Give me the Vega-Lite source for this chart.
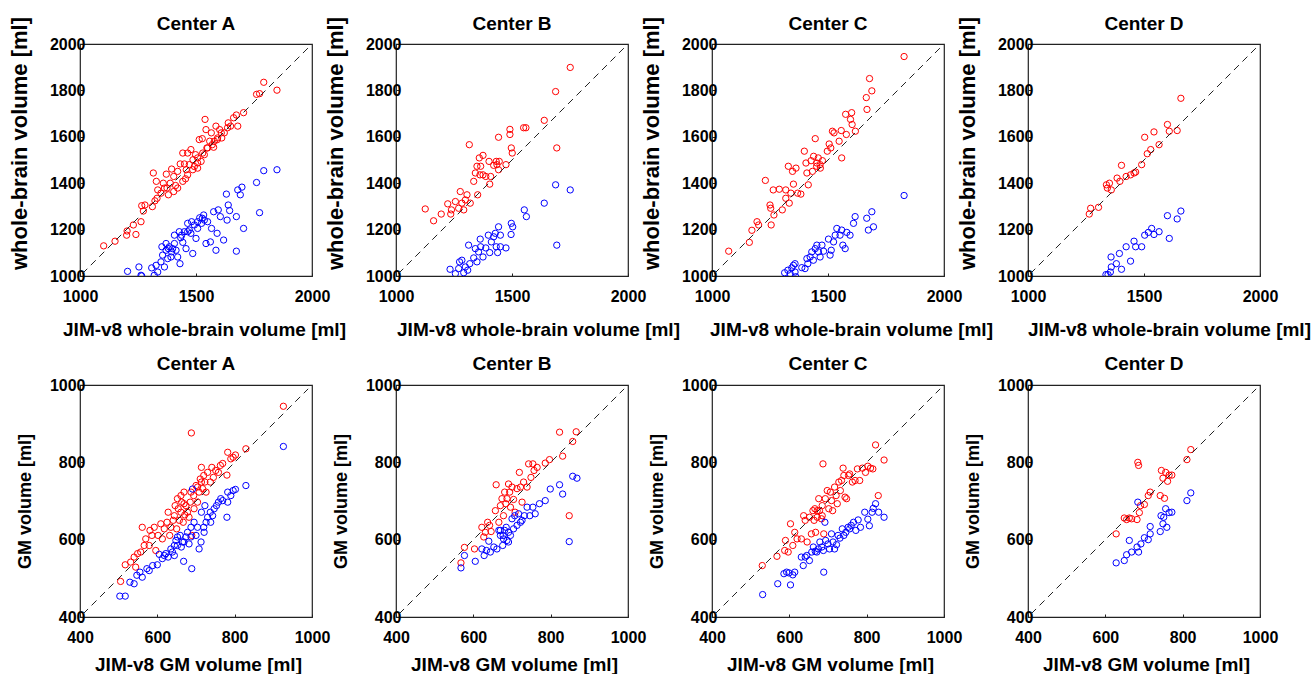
{
"$schema":"https://vega.github.io/schema/vega-lite/v6.json",
"padding":{"left":7,"top":14,"right":2,"bottom":0},
"background":"white",
"bounds":"flush",
"columns":4,
"spacing":{"row":109,"column":84},
"datasets":{
"diag":[{"r":"W","x":1010,"y":1010},{"r":"W","x":1985,"y":1985},{"r":"G","x":408,"y":408},{"r":"G","x":990,"y":990}],
"pts":[
{"p":"WA","c":"r","x":1102,"y":1130},{"p":"WA","c":"r","x":1151,"y":1150},{"p":"WA","c":"r","x":1203,"y":1194},{"p":"WA","c":"r","x":1201,"y":1176},{"p":"WA","c":"r","x":1230,"y":1220},{"p":"WA","c":"r","x":1241,"y":1179},{"p":"WA","c":"r","x":1263,"y":1234},{"p":"WA","c":"r","x":1273,"y":1280},{"p":"WA","c":"r","x":1266,"y":1303},{"p":"WA","c":"r","x":1280,"y":1306},{"p":"WA","c":"r","x":1312,"y":1299},{"p":"WA","c":"r","x":1316,"y":1444},{"p":"WA","c":"r","x":1323,"y":1324},{"p":"WA","c":"r","x":1329,"y":1408},{"p":"WA","c":"r","x":1332,"y":1335},{"p":"WA","c":"r","x":1349,"y":1357},{"p":"WA","c":"r","x":1359,"y":1400},{"p":"WA","c":"r","x":1372,"y":1439},{"p":"WA","c":"r","x":1375,"y":1379},{"p":"WA","c":"r","x":1381,"y":1350},{"p":"WA","c":"r","x":1389,"y":1400},{"p":"WA","c":"r","x":1395,"y":1461},{"p":"WA","c":"r","x":1404,"y":1364},{"p":"WA","c":"r","x":1404,"y":1429},{"p":"WA","c":"r","x":1412,"y":1390},{"p":"WA","c":"r","x":1421,"y":1451},{"p":"WA","c":"r","x":1432,"y":1483},{"p":"WA","c":"r","x":1443,"y":1530},{"p":"WA","c":"r","x":1450,"y":1483},{"p":"WA","c":"r","x":1455,"y":1419},{"p":"WA","c":"r","x":1458,"y":1458},{"p":"WA","c":"r","x":1464,"y":1530},{"p":"WA","c":"r","x":1471,"y":1480},{"p":"WA","c":"r","x":1478,"y":1545},{"p":"WA","c":"r","x":1487,"y":1501},{"p":"WA","c":"r","x":1498,"y":1523},{"p":"WA","c":"r","x":1507,"y":1487},{"p":"WA","c":"r","x":1514,"y":1588},{"p":"WA","c":"r","x":1527,"y":1592},{"p":"WA","c":"r","x":1536,"y":1523},{"p":"WA","c":"r","x":1539,"y":1675},{"p":"WA","c":"r","x":1543,"y":1631},{"p":"WA","c":"r","x":1547,"y":1552},{"p":"WA","c":"r","x":1559,"y":1581},{"p":"WA","c":"r","x":1566,"y":1617},{"p":"WA","c":"r","x":1576,"y":1555},{"p":"WA","c":"r","x":1586,"y":1646},{"p":"WA","c":"r","x":1592,"y":1588},{"p":"WA","c":"r","x":1602,"y":1631},{"p":"WA","c":"r","x":1611,"y":1595},{"p":"WA","c":"r","x":1622,"y":1617},{"p":"WA","c":"r","x":1639,"y":1660},{"p":"WA","c":"r","x":1649,"y":1646},{"p":"WA","c":"r","x":1674,"y":1694},{"p":"WA","c":"r","x":1680,"y":1646},{"p":"WA","c":"r","x":1705,"y":1704},{"p":"WA","c":"r","x":1761,"y":1783},{"p":"WA","c":"r","x":1774,"y":1786},{"p":"WA","c":"r","x":1792,"y":1835},{"p":"WA","c":"r","x":1849,"y":1801},{"p":"WA","c":"r","x":1421,"y":1379},{"p":"WA","c":"r","x":1443,"y":1408},{"p":"WA","c":"r","x":1464,"y":1436},{"p":"WA","c":"r","x":1493,"y":1472},{"p":"WA","c":"r","x":1507,"y":1509},{"p":"WA","c":"r","x":1529,"y":1530},{"p":"WA","c":"r","x":1550,"y":1552},{"p":"WA","c":"r","x":1579,"y":1581},{"p":"WA","c":"r","x":1609,"y":1617},{"p":"WA","c":"r","x":1636,"y":1639},{"p":"WA","c":"r","x":1662,"y":1682},{"p":"WA","c":"r","x":1507,"y":1465},{"p":"WA","c":"r","x":1486,"y":1458},{"p":"WA","c":"r","x":1522,"y":1494},{"p":"WA","c":"r","x":1570,"y":1566},{"p":"WA","c":"r","x":1593,"y":1595},{"p":"WA","c":"r","x":1335,"y":1371},{"p":"WA","c":"r","x":1364,"y":1379},
{"p":"WA","c":"b","x":1205,"y":1020},{"p":"WA","c":"b","x":1254,"y":1039},{"p":"WA","c":"b","x":1263,"y":1003},{"p":"WA","c":"b","x":1266,"y":1000},{"p":"WA","c":"b","x":1309,"y":1035},{"p":"WA","c":"b","x":1320,"y":1003},{"p":"WA","c":"b","x":1328,"y":1046},{"p":"WA","c":"b","x":1335,"y":1017},{"p":"WA","c":"b","x":1349,"y":1061},{"p":"WA","c":"b","x":1356,"y":1090},{"p":"WA","c":"b","x":1353,"y":1126},{"p":"WA","c":"b","x":1364,"y":1039},{"p":"WA","c":"b","x":1378,"y":1075},{"p":"WA","c":"b","x":1381,"y":1118},{"p":"WA","c":"b","x":1392,"y":1082},{"p":"WA","c":"b","x":1399,"y":1118},{"p":"WA","c":"b","x":1407,"y":1176},{"p":"WA","c":"b","x":1414,"y":1111},{"p":"WA","c":"b","x":1421,"y":1082},{"p":"WA","c":"b","x":1431,"y":1053},{"p":"WA","c":"b","x":1434,"y":1165},{"p":"WA","c":"b","x":1443,"y":1145},{"p":"WA","c":"b","x":1450,"y":1191},{"p":"WA","c":"b","x":1457,"y":1118},{"p":"WA","c":"b","x":1464,"y":1227},{"p":"WA","c":"b","x":1471,"y":1198},{"p":"WA","c":"b","x":1478,"y":1184},{"p":"WA","c":"b","x":1486,"y":1097},{"p":"WA","c":"b","x":1493,"y":1220},{"p":"WA","c":"b","x":1500,"y":1162},{"p":"WA","c":"b","x":1507,"y":1205},{"p":"WA","c":"b","x":1516,"y":1251},{"p":"WA","c":"b","x":1524,"y":1227},{"p":"WA","c":"b","x":1533,"y":1263},{"p":"WA","c":"b","x":1543,"y":1140},{"p":"WA","c":"b","x":1550,"y":1234},{"p":"WA","c":"b","x":1562,"y":1147},{"p":"WA","c":"b","x":1567,"y":1205},{"p":"WA","c":"b","x":1576,"y":1277},{"p":"WA","c":"b","x":1586,"y":1111},{"p":"WA","c":"b","x":1591,"y":1184},{"p":"WA","c":"b","x":1596,"y":1285},{"p":"WA","c":"b","x":1605,"y":1256},{"p":"WA","c":"b","x":1619,"y":1155},{"p":"WA","c":"b","x":1631,"y":1353},{"p":"WA","c":"b","x":1634,"y":1241},{"p":"WA","c":"b","x":1639,"y":1306},{"p":"WA","c":"b","x":1645,"y":1282},{"p":"WA","c":"b","x":1674,"y":1256},{"p":"WA","c":"b","x":1674,"y":1107},{"p":"WA","c":"b","x":1680,"y":1371},{"p":"WA","c":"b","x":1691,"y":1350},{"p":"WA","c":"b","x":1698,"y":1383},{"p":"WA","c":"b","x":1705,"y":1205},{"p":"WA","c":"b","x":1761,"y":1403},{"p":"WA","c":"b","x":1774,"y":1273},{"p":"WA","c":"b","x":1792,"y":1454},{"p":"WA","c":"b","x":1849,"y":1458},{"p":"WA","c":"b","x":1371,"y":1111},{"p":"WA","c":"b","x":1385,"y":1126},{"p":"WA","c":"b","x":1395,"y":1104},{"p":"WA","c":"b","x":1371,"y":1140},{"p":"WA","c":"b","x":1407,"y":1140},{"p":"WA","c":"b","x":1428,"y":1191},{"p":"WA","c":"b","x":1438,"y":1176},{"p":"WA","c":"b","x":1464,"y":1191},{"p":"WA","c":"b","x":1481,"y":1234},{"p":"WA","c":"b","x":1507,"y":1234},{"p":"WA","c":"b","x":1527,"y":1249},{"p":"WA","c":"b","x":1536,"y":1241},
{"p":"WB","c":"r","x":1126,"y":1289},{"p":"WB","c":"r","x":1162,"y":1238},{"p":"WB","c":"r","x":1195,"y":1267},{"p":"WB","c":"r","x":1223,"y":1311},{"p":"WB","c":"r","x":1236,"y":1267},{"p":"WB","c":"r","x":1239,"y":1285},{"p":"WB","c":"r","x":1256,"y":1321},{"p":"WB","c":"r","x":1270,"y":1292},{"p":"WB","c":"r","x":1277,"y":1364},{"p":"WB","c":"r","x":1284,"y":1314},{"p":"WB","c":"r","x":1292,"y":1285},{"p":"WB","c":"r","x":1299,"y":1328},{"p":"WB","c":"r","x":1306,"y":1350},{"p":"WB","c":"r","x":1316,"y":1566},{"p":"WB","c":"r","x":1320,"y":1314},{"p":"WB","c":"r","x":1335,"y":1408},{"p":"WB","c":"r","x":1342,"y":1444},{"p":"WB","c":"r","x":1349,"y":1473},{"p":"WB","c":"r","x":1352,"y":1350},{"p":"WB","c":"r","x":1359,"y":1509},{"p":"WB","c":"r","x":1362,"y":1436},{"p":"WB","c":"r","x":1365,"y":1473},{"p":"WB","c":"r","x":1375,"y":1520},{"p":"WB","c":"r","x":1375,"y":1436},{"p":"WB","c":"r","x":1387,"y":1429},{"p":"WB","c":"r","x":1401,"y":1494},{"p":"WB","c":"r","x":1404,"y":1396},{"p":"WB","c":"r","x":1408,"y":1429},{"p":"WB","c":"r","x":1421,"y":1477},{"p":"WB","c":"r","x":1432,"y":1494},{"p":"WB","c":"r","x":1442,"y":1458},{"p":"WB","c":"r","x":1445,"y":1494},{"p":"WB","c":"r","x":1442,"y":1598},{"p":"WB","c":"r","x":1435,"y":1480},{"p":"WB","c":"r","x":1474,"y":1480},{"p":"WB","c":"r","x":1491,"y":1632},{"p":"WB","c":"r","x":1491,"y":1610},{"p":"WB","c":"r","x":1497,"y":1552},{"p":"WB","c":"r","x":1501,"y":1530},{"p":"WB","c":"r","x":1550,"y":1639},{"p":"WB","c":"r","x":1560,"y":1639},{"p":"WB","c":"r","x":1639,"y":1671},{"p":"WB","c":"r","x":1688,"y":1795},{"p":"WB","c":"r","x":1693,"y":1552},{"p":"WB","c":"r","x":1751,"y":1899},
{"p":"WB","c":"b","x":1233,"y":1029},{"p":"WB","c":"b","x":1256,"y":1010},{"p":"WB","c":"b","x":1270,"y":1032},{"p":"WB","c":"b","x":1274,"y":1061},{"p":"WB","c":"b","x":1284,"y":1068},{"p":"WB","c":"b","x":1292,"y":1014},{"p":"WB","c":"b","x":1299,"y":1039},{"p":"WB","c":"b","x":1309,"y":1025},{"p":"WB","c":"b","x":1313,"y":1133},{"p":"WB","c":"b","x":1318,"y":1053},{"p":"WB","c":"b","x":1335,"y":1078},{"p":"WB","c":"b","x":1342,"y":1118},{"p":"WB","c":"b","x":1349,"y":1061},{"p":"WB","c":"b","x":1356,"y":1104},{"p":"WB","c":"b","x":1363,"y":1159},{"p":"WB","c":"b","x":1365,"y":1126},{"p":"WB","c":"b","x":1375,"y":1082},{"p":"WB","c":"b","x":1387,"y":1121},{"p":"WB","c":"b","x":1398,"y":1176},{"p":"WB","c":"b","x":1404,"y":1101},{"p":"WB","c":"b","x":1411,"y":1147},{"p":"WB","c":"b","x":1421,"y":1169},{"p":"WB","c":"b","x":1428,"y":1184},{"p":"WB","c":"b","x":1432,"y":1126},{"p":"WB","c":"b","x":1438,"y":1101},{"p":"WB","c":"b","x":1442,"y":1212},{"p":"WB","c":"b","x":1450,"y":1176},{"p":"WB","c":"b","x":1450,"y":1126},{"p":"WB","c":"b","x":1474,"y":1121},{"p":"WB","c":"b","x":1496,"y":1179},{"p":"WB","c":"b","x":1497,"y":1227},{"p":"WB","c":"b","x":1503,"y":1212},{"p":"WB","c":"b","x":1553,"y":1285},{"p":"WB","c":"b","x":1562,"y":1256},{"p":"WB","c":"b","x":1639,"y":1314},{"p":"WB","c":"b","x":1688,"y":1393},{"p":"WB","c":"b","x":1693,"y":1133},{"p":"WB","c":"b","x":1751,"y":1371},
{"p":"WC","c":"r","x":1072,"y":1107},{"p":"WC","c":"r","x":1161,"y":1145},{"p":"WC","c":"r","x":1172,"y":1197},{"p":"WC","c":"r","x":1194,"y":1234},{"p":"WC","c":"r","x":1201,"y":1220},{"p":"WC","c":"r","x":1230,"y":1412},{"p":"WC","c":"r","x":1255,"y":1220},{"p":"WC","c":"r","x":1250,"y":1306},{"p":"WC","c":"r","x":1253,"y":1292},{"p":"WC","c":"r","x":1264,"y":1371},{"p":"WC","c":"r","x":1267,"y":1263},{"p":"WC","c":"r","x":1290,"y":1374},{"p":"WC","c":"r","x":1303,"y":1285},{"p":"WC","c":"r","x":1318,"y":1371},{"p":"WC","c":"r","x":1318,"y":1335},{"p":"WC","c":"r","x":1329,"y":1473},{"p":"WC","c":"r","x":1333,"y":1314},{"p":"WC","c":"r","x":1340,"y":1357},{"p":"WC","c":"r","x":1347,"y":1451},{"p":"WC","c":"r","x":1351,"y":1396},{"p":"WC","c":"r","x":1362,"y":1465},{"p":"WC","c":"r","x":1369,"y":1357},{"p":"WC","c":"r","x":1383,"y":1353},{"p":"WC","c":"r","x":1398,"y":1538},{"p":"WC","c":"r","x":1405,"y":1487},{"p":"WC","c":"r","x":1409,"y":1444},{"p":"WC","c":"r","x":1415,"y":1393},{"p":"WC","c":"r","x":1427,"y":1497},{"p":"WC","c":"r","x":1433,"y":1451},{"p":"WC","c":"r","x":1438,"y":1516},{"p":"WC","c":"r","x":1445,"y":1592},{"p":"WC","c":"r","x":1451,"y":1473},{"p":"WC","c":"r","x":1458,"y":1509},{"p":"WC","c":"r","x":1467,"y":1465},{"p":"WC","c":"r","x":1476,"y":1497},{"p":"WC","c":"r","x":1497,"y":1538},{"p":"WC","c":"r","x":1505,"y":1569},{"p":"WC","c":"r","x":1512,"y":1552},{"p":"WC","c":"r","x":1519,"y":1624},{"p":"WC","c":"r","x":1526,"y":1617},{"p":"WC","c":"r","x":1548,"y":1581},{"p":"WC","c":"r","x":1559,"y":1509},{"p":"WC","c":"r","x":1557,"y":1627},{"p":"WC","c":"r","x":1576,"y":1697},{"p":"WC","c":"r","x":1579,"y":1610},{"p":"WC","c":"r","x":1597,"y":1675},{"p":"WC","c":"r","x":1602,"y":1704},{"p":"WC","c":"r","x":1604,"y":1653},{"p":"WC","c":"r","x":1618,"y":1624},{"p":"WC","c":"r","x":1665,"y":1769},{"p":"WC","c":"r","x":1668,"y":1718},{"p":"WC","c":"r","x":1679,"y":1851},{"p":"WC","c":"r","x":1689,"y":1798},{"p":"WC","c":"r","x":1828,"y":1946},{"p":"WC","c":"r","x":1452,"y":1487},{"p":"WC","c":"r","x":1466,"y":1480},
{"p":"WC","c":"b","x":1313,"y":1014},{"p":"WC","c":"b","x":1327,"y":1025},{"p":"WC","c":"b","x":1337,"y":1010},{"p":"WC","c":"b","x":1344,"y":1035},{"p":"WC","c":"b","x":1351,"y":1046},{"p":"WC","c":"b","x":1358,"y":1053},{"p":"WC","c":"b","x":1361,"y":997},{"p":"WC","c":"b","x":1358,"y":1017},{"p":"WC","c":"b","x":1387,"y":1036},{"p":"WC","c":"b","x":1401,"y":1032},{"p":"WC","c":"b","x":1409,"y":1075},{"p":"WC","c":"b","x":1413,"y":1053},{"p":"WC","c":"b","x":1423,"y":1082},{"p":"WC","c":"b","x":1430,"y":1104},{"p":"WC","c":"b","x":1437,"y":1068},{"p":"WC","c":"b","x":1445,"y":1118},{"p":"WC","c":"b","x":1452,"y":1133},{"p":"WC","c":"b","x":1459,"y":1104},{"p":"WC","c":"b","x":1466,"y":1082},{"p":"WC","c":"b","x":1474,"y":1133},{"p":"WC","c":"b","x":1481,"y":1107},{"p":"WC","c":"b","x":1502,"y":1159},{"p":"WC","c":"b","x":1509,"y":1090},{"p":"WC","c":"b","x":1514,"y":1111},{"p":"WC","c":"b","x":1524,"y":1147},{"p":"WC","c":"b","x":1531,"y":1176},{"p":"WC","c":"b","x":1538,"y":1205},{"p":"WC","c":"b","x":1552,"y":1176},{"p":"WC","c":"b","x":1559,"y":1198},{"p":"WC","c":"b","x":1564,"y":1133},{"p":"WC","c":"b","x":1574,"y":1118},{"p":"WC","c":"b","x":1581,"y":1188},{"p":"WC","c":"b","x":1595,"y":1176},{"p":"WC","c":"b","x":1610,"y":1227},{"p":"WC","c":"b","x":1617,"y":1256},{"p":"WC","c":"b","x":1667,"y":1249},{"p":"WC","c":"b","x":1674,"y":1198},{"p":"WC","c":"b","x":1689,"y":1277},{"p":"WC","c":"b","x":1696,"y":1212},{"p":"WC","c":"b","x":1828,"y":1347},
{"p":"WD","c":"r","x":1264,"y":1267},{"p":"WD","c":"r","x":1270,"y":1292},{"p":"WD","c":"r","x":1304,"y":1296},{"p":"WD","c":"r","x":1338,"y":1393},{"p":"WD","c":"r","x":1342,"y":1379},{"p":"WD","c":"r","x":1351,"y":1400},{"p":"WD","c":"r","x":1359,"y":1371},{"p":"WD","c":"r","x":1384,"y":1422},{"p":"WD","c":"r","x":1396,"y":1408},{"p":"WD","c":"r","x":1403,"y":1477},{"p":"WD","c":"r","x":1423,"y":1429},{"p":"WD","c":"r","x":1442,"y":1436},{"p":"WD","c":"r","x":1457,"y":1444},{"p":"WD","c":"r","x":1464,"y":1448},{"p":"WD","c":"r","x":1490,"y":1480},{"p":"WD","c":"r","x":1503,"y":1598},{"p":"WD","c":"r","x":1514,"y":1527},{"p":"WD","c":"r","x":1529,"y":1545},{"p":"WD","c":"r","x":1543,"y":1621},{"p":"WD","c":"r","x":1565,"y":1566},{"p":"WD","c":"r","x":1601,"y":1653},{"p":"WD","c":"r","x":1609,"y":1624},{"p":"WD","c":"r","x":1643,"y":1627},{"p":"WD","c":"r","x":1659,"y":1766},
{"p":"WD","c":"b","x":1336,"y":1006},{"p":"WD","c":"b","x":1345,"y":1006},{"p":"WD","c":"b","x":1355,"y":1017},{"p":"WD","c":"b","x":1359,"y":1039},{"p":"WD","c":"b","x":1358,"y":1082},{"p":"WD","c":"b","x":1381,"y":1053},{"p":"WD","c":"b","x":1394,"y":1097},{"p":"WD","c":"b","x":1403,"y":1029},{"p":"WD","c":"b","x":1423,"y":1126},{"p":"WD","c":"b","x":1442,"y":1064},{"p":"WD","c":"b","x":1457,"y":1150},{"p":"WD","c":"b","x":1464,"y":1126},{"p":"WD","c":"b","x":1490,"y":1126},{"p":"WD","c":"b","x":1503,"y":1176},{"p":"WD","c":"b","x":1519,"y":1188},{"p":"WD","c":"b","x":1533,"y":1205},{"p":"WD","c":"b","x":1543,"y":1179},{"p":"WD","c":"b","x":1565,"y":1191},{"p":"WD","c":"b","x":1601,"y":1260},{"p":"WD","c":"b","x":1609,"y":1162},{"p":"WD","c":"b","x":1643,"y":1246},{"p":"WD","c":"b","x":1659,"y":1280},
{"p":"GA","c":"r","x":505,"y":492},{"p":"GA","c":"r","x":517,"y":535},{"p":"GA","c":"r","x":531,"y":542},{"p":"GA","c":"r","x":540,"y":555},{"p":"GA","c":"r","x":544,"y":529},{"p":"GA","c":"r","x":549,"y":564},{"p":"GA","c":"r","x":557,"y":568},{"p":"GA","c":"r","x":561,"y":632},{"p":"GA","c":"r","x":566,"y":585},{"p":"GA","c":"r","x":570,"y":602},{"p":"GA","c":"r","x":579,"y":585},{"p":"GA","c":"r","x":581,"y":624},{"p":"GA","c":"r","x":586,"y":611},{"p":"GA","c":"r","x":592,"y":632},{"p":"GA","c":"r","x":596,"y":572},{"p":"GA","c":"r","x":602,"y":611},{"p":"GA","c":"r","x":609,"y":641},{"p":"GA","c":"r","x":613,"y":602},{"p":"GA","c":"r","x":618,"y":628},{"p":"GA","c":"r","x":625,"y":645},{"p":"GA","c":"r","x":628,"y":671},{"p":"GA","c":"r","x":632,"y":611},{"p":"GA","c":"r","x":635,"y":632},{"p":"GA","c":"r","x":641,"y":650},{"p":"GA","c":"r","x":644,"y":662},{"p":"GA","c":"r","x":646,"y":688},{"p":"GA","c":"r","x":650,"y":628},{"p":"GA","c":"r","x":652,"y":706},{"p":"GA","c":"r","x":654,"y":680},{"p":"GA","c":"r","x":657,"y":650},{"p":"GA","c":"r","x":661,"y":714},{"p":"GA","c":"r","x":661,"y":671},{"p":"GA","c":"r","x":663,"y":697},{"p":"GA","c":"r","x":667,"y":645},{"p":"GA","c":"r","x":669,"y":693},{"p":"GA","c":"r","x":671,"y":664},{"p":"GA","c":"r","x":674,"y":688},{"p":"GA","c":"r","x":678,"y":671},{"p":"GA","c":"r","x":682,"y":658},{"p":"GA","c":"r","x":685,"y":697},{"p":"GA","c":"r","x":688,"y":876},{"p":"GA","c":"r","x":689,"y":611},{"p":"GA","c":"r","x":694,"y":714},{"p":"GA","c":"r","x":695,"y":680},{"p":"GA","c":"r","x":700,"y":740},{"p":"GA","c":"r","x":704,"y":697},{"p":"GA","c":"r","x":708,"y":723},{"p":"GA","c":"r","x":711,"y":757},{"p":"GA","c":"r","x":714,"y":787},{"p":"GA","c":"r","x":717,"y":732},{"p":"GA","c":"r","x":720,"y":766},{"p":"GA","c":"r","x":723,"y":749},{"p":"GA","c":"r","x":726,"y":723},{"p":"GA","c":"r","x":730,"y":774},{"p":"GA","c":"r","x":737,"y":749},{"p":"GA","c":"r","x":741,"y":787},{"p":"GA","c":"r","x":745,"y":761},{"p":"GA","c":"r","x":751,"y":779},{"p":"GA","c":"r","x":758,"y":774},{"p":"GA","c":"r","x":763,"y":792},{"p":"GA","c":"r","x":769,"y":797},{"p":"GA","c":"r","x":780,"y":767},{"p":"GA","c":"r","x":782,"y":826},{"p":"GA","c":"r","x":790,"y":809},{"p":"GA","c":"r","x":796,"y":813},{"p":"GA","c":"r","x":802,"y":819},{"p":"GA","c":"r","x":829,"y":835},{"p":"GA","c":"r","x":926,"y":945},{"p":"GA","c":"r","x":704,"y":736},{"p":"GA","c":"r","x":714,"y":749},{"p":"GA","c":"r","x":687,"y":723},{"p":"GA","c":"r","x":669,"y":723},
{"p":"GA","c":"b","x":503,"y":454},{"p":"GA","c":"b","x":517,"y":454},{"p":"GA","c":"b","x":529,"y":490},{"p":"GA","c":"b","x":540,"y":486},{"p":"GA","c":"b","x":547,"y":508},{"p":"GA","c":"b","x":555,"y":516},{"p":"GA","c":"b","x":561,"y":503},{"p":"GA","c":"b","x":573,"y":525},{"p":"GA","c":"b","x":579,"y":520},{"p":"GA","c":"b","x":588,"y":533},{"p":"GA","c":"b","x":600,"y":535},{"p":"GA","c":"b","x":605,"y":562},{"p":"GA","c":"b","x":613,"y":551},{"p":"GA","c":"b","x":618,"y":559},{"p":"GA","c":"b","x":622,"y":564},{"p":"GA","c":"b","x":628,"y":555},{"p":"GA","c":"b","x":635,"y":576},{"p":"GA","c":"b","x":639,"y":568},{"p":"GA","c":"b","x":644,"y":585},{"p":"GA","c":"b","x":648,"y":598},{"p":"GA","c":"b","x":652,"y":585},{"p":"GA","c":"b","x":659,"y":611},{"p":"GA","c":"b","x":662,"y":581},{"p":"GA","c":"b","x":665,"y":594},{"p":"GA","c":"b","x":668,"y":544},{"p":"GA","c":"b","x":674,"y":607},{"p":"GA","c":"b","x":678,"y":619},{"p":"GA","c":"b","x":682,"y":589},{"p":"GA","c":"b","x":687,"y":632},{"p":"GA","c":"b","x":689,"y":525},{"p":"GA","c":"b","x":691,"y":731},{"p":"GA","c":"b","x":695,"y":645},{"p":"GA","c":"b","x":700,"y":611},{"p":"GA","c":"b","x":704,"y":632},{"p":"GA","c":"b","x":708,"y":576},{"p":"GA","c":"b","x":713,"y":594},{"p":"GA","c":"b","x":714,"y":671},{"p":"GA","c":"b","x":720,"y":632},{"p":"GA","c":"b","x":723,"y":688},{"p":"GA","c":"b","x":726,"y":645},{"p":"GA","c":"b","x":730,"y":658},{"p":"GA","c":"b","x":737,"y":671},{"p":"GA","c":"b","x":743,"y":662},{"p":"GA","c":"b","x":747,"y":680},{"p":"GA","c":"b","x":753,"y":688},{"p":"GA","c":"b","x":758,"y":697},{"p":"GA","c":"b","x":764,"y":706},{"p":"GA","c":"b","x":769,"y":701},{"p":"GA","c":"b","x":780,"y":658},{"p":"GA","c":"b","x":782,"y":723},{"p":"GA","c":"b","x":782,"y":697},{"p":"GA","c":"b","x":790,"y":714},{"p":"GA","c":"b","x":796,"y":727},{"p":"GA","c":"b","x":802,"y":730},{"p":"GA","c":"b","x":829,"y":740},{"p":"GA","c":"b","x":926,"y":841},{"p":"GA","c":"b","x":644,"y":559},{"p":"GA","c":"b","x":652,"y":607},{"p":"GA","c":"b","x":669,"y":594},{"p":"GA","c":"b","x":687,"y":607},{"p":"GA","c":"b","x":721,"y":619},{"p":"GA","c":"b","x":738,"y":645},
{"p":"GB","c":"r","x":568,"y":540},{"p":"GB","c":"r","x":577,"y":580},{"p":"GB","c":"r","x":603,"y":576},{"p":"GB","c":"r","x":622,"y":632},{"p":"GB","c":"r","x":627,"y":607},{"p":"GB","c":"r","x":631,"y":619},{"p":"GB","c":"r","x":637,"y":645},{"p":"GB","c":"r","x":642,"y":637},{"p":"GB","c":"r","x":646,"y":621},{"p":"GB","c":"r","x":657,"y":675},{"p":"GB","c":"r","x":659,"y":742},{"p":"GB","c":"r","x":666,"y":645},{"p":"GB","c":"r","x":670,"y":688},{"p":"GB","c":"r","x":674,"y":706},{"p":"GB","c":"r","x":678,"y":662},{"p":"GB","c":"r","x":681,"y":723},{"p":"GB","c":"r","x":684,"y":693},{"p":"GB","c":"r","x":687,"y":706},{"p":"GB","c":"r","x":691,"y":744},{"p":"GB","c":"r","x":694,"y":723},{"p":"GB","c":"r","x":696,"y":684},{"p":"GB","c":"r","x":700,"y":736},{"p":"GB","c":"r","x":704,"y":704},{"p":"GB","c":"r","x":708,"y":671},{"p":"GB","c":"r","x":713,"y":732},{"p":"GB","c":"r","x":719,"y":774},{"p":"GB","c":"r","x":722,"y":736},{"p":"GB","c":"r","x":726,"y":697},{"p":"GB","c":"r","x":730,"y":749},{"p":"GB","c":"r","x":739,"y":736},{"p":"GB","c":"r","x":743,"y":796},{"p":"GB","c":"r","x":749,"y":761},{"p":"GB","c":"r","x":754,"y":796},{"p":"GB","c":"r","x":757,"y":779},{"p":"GB","c":"r","x":765,"y":787},{"p":"GB","c":"r","x":786,"y":798},{"p":"GB","c":"r","x":797,"y":807},{"p":"GB","c":"r","x":823,"y":878},{"p":"GB","c":"r","x":831,"y":816},{"p":"GB","c":"r","x":848,"y":662},{"p":"GB","c":"r","x":857,"y":854},{"p":"GB","c":"r","x":866,"y":879},
{"p":"GB","c":"b","x":568,"y":527},{"p":"GB","c":"b","x":577,"y":559},{"p":"GB","c":"b","x":605,"y":544},{"p":"GB","c":"b","x":622,"y":576},{"p":"GB","c":"b","x":628,"y":559},{"p":"GB","c":"b","x":634,"y":572},{"p":"GB","c":"b","x":640,"y":596},{"p":"GB","c":"b","x":644,"y":568},{"p":"GB","c":"b","x":653,"y":581},{"p":"GB","c":"b","x":661,"y":576},{"p":"GB","c":"b","x":666,"y":624},{"p":"GB","c":"b","x":670,"y":611},{"p":"GB","c":"b","x":676,"y":585},{"p":"GB","c":"b","x":678,"y":602},{"p":"GB","c":"b","x":681,"y":624},{"p":"GB","c":"b","x":685,"y":632},{"p":"GB","c":"b","x":687,"y":598},{"p":"GB","c":"b","x":691,"y":619},{"p":"GB","c":"b","x":696,"y":611},{"p":"GB","c":"b","x":700,"y":654},{"p":"GB","c":"b","x":704,"y":628},{"p":"GB","c":"b","x":707,"y":662},{"p":"GB","c":"b","x":713,"y":637},{"p":"GB","c":"b","x":717,"y":667},{"p":"GB","c":"b","x":722,"y":645},{"p":"GB","c":"b","x":726,"y":650},{"p":"GB","c":"b","x":732,"y":662},{"p":"GB","c":"b","x":739,"y":684},{"p":"GB","c":"b","x":746,"y":662},{"p":"GB","c":"b","x":754,"y":684},{"p":"GB","c":"b","x":760,"y":667},{"p":"GB","c":"b","x":771,"y":693},{"p":"GB","c":"b","x":786,"y":701},{"p":"GB","c":"b","x":799,"y":731},{"p":"GB","c":"b","x":823,"y":742},{"p":"GB","c":"b","x":831,"y":718},{"p":"GB","c":"b","x":848,"y":595},{"p":"GB","c":"b","x":857,"y":764},{"p":"GB","c":"b","x":868,"y":759},{"p":"GB","c":"b","x":670,"y":624},{"p":"GB","c":"b","x":691,"y":594},{"p":"GB","c":"b","x":677,"y":611},
{"p":"GC","c":"r","x":530,"y":533},{"p":"GC","c":"r","x":568,"y":557},{"p":"GC","c":"r","x":588,"y":572},{"p":"GC","c":"r","x":590,"y":598},{"p":"GC","c":"r","x":597,"y":568},{"p":"GC","c":"r","x":603,"y":641},{"p":"GC","c":"r","x":609,"y":585},{"p":"GC","c":"r","x":614,"y":619},{"p":"GC","c":"r","x":620,"y":602},{"p":"GC","c":"r","x":631,"y":602},{"p":"GC","c":"r","x":637,"y":662},{"p":"GC","c":"r","x":641,"y":650},{"p":"GC","c":"r","x":646,"y":594},{"p":"GC","c":"r","x":652,"y":658},{"p":"GC","c":"r","x":657,"y":615},{"p":"GC","c":"r","x":661,"y":675},{"p":"GC","c":"r","x":664,"y":650},{"p":"GC","c":"r","x":666,"y":680},{"p":"GC","c":"r","x":668,"y":619},{"p":"GC","c":"r","x":672,"y":658},{"p":"GC","c":"r","x":676,"y":706},{"p":"GC","c":"r","x":678,"y":675},{"p":"GC","c":"r","x":683,"y":654},{"p":"GC","c":"r","x":685,"y":688},{"p":"GC","c":"r","x":687,"y":796},{"p":"GC","c":"r","x":689,"y":615},{"p":"GC","c":"r","x":693,"y":706},{"p":"GC","c":"r","x":698,"y":727},{"p":"GC","c":"r","x":702,"y":680},{"p":"GC","c":"r","x":706,"y":723},{"p":"GC","c":"r","x":709,"y":701},{"p":"GC","c":"r","x":712,"y":675},{"p":"GC","c":"r","x":717,"y":736},{"p":"GC","c":"r","x":721,"y":714},{"p":"GC","c":"r","x":724,"y":693},{"p":"GC","c":"r","x":728,"y":749},{"p":"GC","c":"r","x":732,"y":727},{"p":"GC","c":"r","x":735,"y":753},{"p":"GC","c":"r","x":739,"y":785},{"p":"GC","c":"r","x":744,"y":710},{"p":"GC","c":"r","x":748,"y":706},{"p":"GC","c":"r","x":753,"y":766},{"p":"GC","c":"r","x":756,"y":770},{"p":"GC","c":"r","x":763,"y":749},{"p":"GC","c":"r","x":770,"y":753},{"p":"GC","c":"r","x":776,"y":783},{"p":"GC","c":"r","x":782,"y":753},{"p":"GC","c":"r","x":789,"y":785},{"p":"GC","c":"r","x":797,"y":774},{"p":"GC","c":"r","x":803,"y":790},{"p":"GC","c":"r","x":810,"y":785},{"p":"GC","c":"r","x":816,"y":783},{"p":"GC","c":"r","x":823,"y":845},{"p":"GC","c":"r","x":830,"y":714},{"p":"GC","c":"r","x":845,"y":806},{"p":"GC","c":"r","x":672,"y":675},{"p":"GC","c":"r","x":685,"y":662},{"p":"GC","c":"r","x":741,"y":766},
{"p":"GC","c":"b","x":531,"y":458},{"p":"GC","c":"b","x":570,"y":486},{"p":"GC","c":"b","x":586,"y":512},{"p":"GC","c":"b","x":593,"y":516},{"p":"GC","c":"b","x":599,"y":514},{"p":"GC","c":"b","x":603,"y":483},{"p":"GC","c":"b","x":609,"y":509},{"p":"GC","c":"b","x":614,"y":516},{"p":"GC","c":"b","x":631,"y":555},{"p":"GC","c":"b","x":636,"y":533},{"p":"GC","c":"b","x":641,"y":555},{"p":"GC","c":"b","x":645,"y":559},{"p":"GC","c":"b","x":652,"y":546},{"p":"GC","c":"b","x":658,"y":568},{"p":"GC","c":"b","x":662,"y":581},{"p":"GC","c":"b","x":667,"y":570},{"p":"GC","c":"b","x":671,"y":568},{"p":"GC","c":"b","x":675,"y":576},{"p":"GC","c":"b","x":679,"y":594},{"p":"GC","c":"b","x":684,"y":581},{"p":"GC","c":"b","x":688,"y":572},{"p":"GC","c":"b","x":689,"y":516},{"p":"GC","c":"b","x":692,"y":645},{"p":"GC","c":"b","x":694,"y":598},{"p":"GC","c":"b","x":700,"y":589},{"p":"GC","c":"b","x":704,"y":576},{"p":"GC","c":"b","x":709,"y":615},{"p":"GC","c":"b","x":713,"y":594},{"p":"GC","c":"b","x":717,"y":576},{"p":"GC","c":"b","x":722,"y":587},{"p":"GC","c":"b","x":726,"y":611},{"p":"GC","c":"b","x":731,"y":604},{"p":"GC","c":"b","x":737,"y":628},{"p":"GC","c":"b","x":741,"y":611},{"p":"GC","c":"b","x":746,"y":619},{"p":"GC","c":"b","x":752,"y":632},{"p":"GC","c":"b","x":756,"y":628},{"p":"GC","c":"b","x":760,"y":637},{"p":"GC","c":"b","x":766,"y":645},{"p":"GC","c":"b","x":772,"y":624},{"p":"GC","c":"b","x":778,"y":651},{"p":"GC","c":"b","x":784,"y":632},{"p":"GC","c":"b","x":795,"y":671},{"p":"GC","c":"b","x":803,"y":653},{"p":"GC","c":"b","x":807,"y":636},{"p":"GC","c":"b","x":814,"y":671},{"p":"GC","c":"b","x":817,"y":681},{"p":"GC","c":"b","x":823,"y":693},{"p":"GC","c":"b","x":831,"y":671},{"p":"GC","c":"b","x":845,"y":658},
{"p":"GD","c":"r","x":628,"y":615},{"p":"GD","c":"r","x":649,"y":656},{"p":"GD","c":"r","x":655,"y":652},{"p":"GD","c":"r","x":662,"y":656},{"p":"GD","c":"r","x":668,"y":654},{"p":"GD","c":"r","x":682,"y":652},{"p":"GD","c":"r","x":684,"y":800},{"p":"GD","c":"r","x":686,"y":792},{"p":"GD","c":"r","x":688,"y":670},{"p":"GD","c":"r","x":691,"y":688},{"p":"GD","c":"r","x":701,"y":691},{"p":"GD","c":"r","x":711,"y":714},{"p":"GD","c":"r","x":716,"y":723},{"p":"GD","c":"r","x":742,"y":714},{"p":"GD","c":"r","x":745,"y":779},{"p":"GD","c":"r","x":749,"y":759},{"p":"GD","c":"r","x":753,"y":707},{"p":"GD","c":"r","x":756,"y":774},{"p":"GD","c":"r","x":761,"y":751},{"p":"GD","c":"r","x":765,"y":767},{"p":"GD","c":"r","x":772,"y":767},{"p":"GD","c":"r","x":811,"y":807},{"p":"GD","c":"r","x":821,"y":833},
{"p":"GD","c":"b","x":628,"y":540},{"p":"GD","c":"b","x":649,"y":546},{"p":"GD","c":"b","x":655,"y":561},{"p":"GD","c":"b","x":662,"y":598},{"p":"GD","c":"b","x":668,"y":568},{"p":"GD","c":"b","x":682,"y":581},{"p":"GD","c":"b","x":684,"y":697},{"p":"GD","c":"b","x":686,"y":568},{"p":"GD","c":"b","x":692,"y":589},{"p":"GD","c":"b","x":701,"y":605},{"p":"GD","c":"b","x":711,"y":600},{"p":"GD","c":"b","x":716,"y":634},{"p":"GD","c":"b","x":716,"y":615},{"p":"GD","c":"b","x":742,"y":621},{"p":"GD","c":"b","x":744,"y":662},{"p":"GD","c":"b","x":749,"y":641},{"p":"GD","c":"b","x":751,"y":658},{"p":"GD","c":"b","x":756,"y":680},{"p":"GD","c":"b","x":759,"y":632},{"p":"GD","c":"b","x":765,"y":670},{"p":"GD","c":"b","x":772,"y":671},{"p":"GD","c":"b","x":811,"y":701},{"p":"GD","c":"b","x":821,"y":721}
]},
"concat":[
{"width":232,"height":232,"title":{"text":"Center A","offset":-18},"layer":[
 {"data":{"name":"pts"},"transform":[{"filter":"datum.p==='WA'"}],"mark":{"type":"point","filled":false,"size":40,"strokeWidth":1,"clip":true,"opacity":1},
  "encoding":{"x":{"field":"x","type":"quantitative","scale":{"domain":[1000,2000],"nice":false,"zero":false},"axis":{"title":"JIM-v8 whole-brain volume [ml]","values":[1000,1500,2000],"format":"d","titleX":124,"titleY":44}},
   "y":{"field":"y","type":"quantitative","scale":{"domain":[1000,2000],"nice":false,"zero":false},"axis":{"title":"whole-brain volume [ml]","values":[1000,1200,1400,1600,1800,2000],"format":"d","titleX":-49,"titleY":99,"titleFontSize":22}},
   "color":{"field":"c","type":"nominal","scale":{"domain":["r","b"],"range":["#ff0000","#0000ff"]},"legend":null}}},
 {"data":{"name":"diag"},"transform":[{"filter":"datum.r==='W'"}],"mark":{"type":"line","strokeDash":[7,5],"color":"#222","strokeWidth":1},"encoding":{"x":{"field":"x","type":"quantitative"},"y":{"field":"y","type":"quantitative"}}}]},
{"width":232,"height":232,"title":{"text":"Center B","offset":-18},"layer":[
 {"data":{"name":"pts"},"transform":[{"filter":"datum.p==='WB'"}],"mark":{"type":"point","filled":false,"size":40,"strokeWidth":1,"clip":true,"opacity":1},
  "encoding":{"x":{"field":"x","type":"quantitative","scale":{"domain":[1000,2000],"nice":false,"zero":false},"axis":{"title":"JIM-v8 whole-brain volume [ml]","values":[1000,1500,2000],"format":"d","titleX":142,"titleY":44}},
   "y":{"field":"y","type":"quantitative","scale":{"domain":[1000,2000],"nice":false,"zero":false},"axis":{"title":"whole-brain volume [ml]","values":[1000,1200,1400,1600,1800,2000],"format":"d","titleX":-49,"titleY":99,"titleFontSize":22}},
   "color":{"field":"c","type":"nominal","scale":{"domain":["r","b"],"range":["#ff0000","#0000ff"]},"legend":null}}},
 {"data":{"name":"diag"},"transform":[{"filter":"datum.r==='W'"}],"mark":{"type":"line","strokeDash":[7,5],"color":"#222","strokeWidth":1},"encoding":{"x":{"field":"x","type":"quantitative"},"y":{"field":"y","type":"quantitative"}}}]},
{"width":232,"height":232,"title":{"text":"Center C","offset":-18},"layer":[
 {"data":{"name":"pts"},"transform":[{"filter":"datum.p==='WC'"}],"mark":{"type":"point","filled":false,"size":40,"strokeWidth":1,"clip":true,"opacity":1},
  "encoding":{"x":{"field":"x","type":"quantitative","scale":{"domain":[1000,2000],"nice":false,"zero":false},"axis":{"title":"JIM-v8 whole-brain volume [ml]","values":[1000,1500,2000],"format":"d","titleX":139,"titleY":44}},
   "y":{"field":"y","type":"quantitative","scale":{"domain":[1000,2000],"nice":false,"zero":false},"axis":{"title":"whole-brain volume [ml]","values":[1000,1200,1400,1600,1800,2000],"format":"d","titleX":-49,"titleY":99,"titleFontSize":22}},
   "color":{"field":"c","type":"nominal","scale":{"domain":["r","b"],"range":["#ff0000","#0000ff"]},"legend":null}}},
 {"data":{"name":"diag"},"transform":[{"filter":"datum.r==='W'"}],"mark":{"type":"line","strokeDash":[7,5],"color":"#222","strokeWidth":1},"encoding":{"x":{"field":"x","type":"quantitative"},"y":{"field":"y","type":"quantitative"}}}]},
{"width":232,"height":232,"title":{"text":"Center D","offset":-18},"layer":[
 {"data":{"name":"pts"},"transform":[{"filter":"datum.p==='WD'"}],"mark":{"type":"point","filled":false,"size":40,"strokeWidth":1,"clip":true,"opacity":1},
  "encoding":{"x":{"field":"x","type":"quantitative","scale":{"domain":[1000,2000],"nice":false,"zero":false},"axis":{"title":"JIM-v8 whole-brain volume [ml]","values":[1000,1500,2000],"format":"d","titleX":141,"titleY":44}},
   "y":{"field":"y","type":"quantitative","scale":{"domain":[1000,2000],"nice":false,"zero":false},"axis":{"title":"whole-brain volume [ml]","values":[1000,1200,1400,1600,1800,2000],"format":"d","titleX":-49,"titleY":99,"titleFontSize":22}},
   "color":{"field":"c","type":"nominal","scale":{"domain":["r","b"],"range":["#ff0000","#0000ff"]},"legend":null}}},
 {"data":{"name":"diag"},"transform":[{"filter":"datum.r==='W'"}],"mark":{"type":"line","strokeDash":[7,5],"color":"#222","strokeWidth":1},"encoding":{"x":{"field":"x","type":"quantitative"},"y":{"field":"y","type":"quantitative"}}}]},
{"width":232,"height":232,"title":{"text":"Center A","offset":3},"layer":[
 {"data":{"name":"pts"},"transform":[{"filter":"datum.p==='GA'"}],"mark":{"type":"point","filled":false,"size":40,"strokeWidth":1,"clip":true,"opacity":1},
  "encoding":{"x":{"field":"x","type":"quantitative","scale":{"domain":[400,1000],"nice":false,"zero":false},"axis":{"title":"JIM-v8 GM volume [ml]","values":[400,600,800,1000],"format":"d","titleX":118,"titleY":38}},
   "y":{"field":"y","type":"quantitative","scale":{"domain":[400,1000],"nice":false,"zero":false},"axis":{"title":"GM volume [ml]","values":[400,600,800,1000],"format":"d","titleX":-46,"titleY":116,"titleFontSize":18}},
   "color":{"field":"c","type":"nominal","scale":{"domain":["r","b"],"range":["#ff0000","#0000ff"]},"legend":null}}},
 {"data":{"name":"diag"},"transform":[{"filter":"datum.r==='G'"}],"mark":{"type":"line","strokeDash":[7,5],"color":"#222","strokeWidth":1},"encoding":{"x":{"field":"x","type":"quantitative"},"y":{"field":"y","type":"quantitative"}}}]},
{"width":232,"height":232,"title":{"text":"Center B","offset":3},"layer":[
 {"data":{"name":"pts"},"transform":[{"filter":"datum.p==='GB'"}],"mark":{"type":"point","filled":false,"size":40,"strokeWidth":1,"clip":true,"opacity":1},
  "encoding":{"x":{"field":"x","type":"quantitative","scale":{"domain":[400,1000],"nice":false,"zero":false},"axis":{"title":"JIM-v8 GM volume [ml]","values":[400,600,800,1000],"format":"d","titleX":118,"titleY":38}},
   "y":{"field":"y","type":"quantitative","scale":{"domain":[400,1000],"nice":false,"zero":false},"axis":{"title":"GM volume [ml]","values":[400,600,800,1000],"format":"d","titleX":-46,"titleY":116,"titleFontSize":18}},
   "color":{"field":"c","type":"nominal","scale":{"domain":["r","b"],"range":["#ff0000","#0000ff"]},"legend":null}}},
 {"data":{"name":"diag"},"transform":[{"filter":"datum.r==='G'"}],"mark":{"type":"line","strokeDash":[7,5],"color":"#222","strokeWidth":1},"encoding":{"x":{"field":"x","type":"quantitative"},"y":{"field":"y","type":"quantitative"}}}]},
{"width":232,"height":232,"title":{"text":"Center C","offset":3},"layer":[
 {"data":{"name":"pts"},"transform":[{"filter":"datum.p==='GC'"}],"mark":{"type":"point","filled":false,"size":40,"strokeWidth":1,"clip":true,"opacity":1},
  "encoding":{"x":{"field":"x","type":"quantitative","scale":{"domain":[400,1000],"nice":false,"zero":false},"axis":{"title":"JIM-v8 GM volume [ml]","values":[400,600,800,1000],"format":"d","titleX":118,"titleY":38}},
   "y":{"field":"y","type":"quantitative","scale":{"domain":[400,1000],"nice":false,"zero":false},"axis":{"title":"GM volume [ml]","values":[400,600,800,1000],"format":"d","titleX":-46,"titleY":116,"titleFontSize":18}},
   "color":{"field":"c","type":"nominal","scale":{"domain":["r","b"],"range":["#ff0000","#0000ff"]},"legend":null}}},
 {"data":{"name":"diag"},"transform":[{"filter":"datum.r==='G'"}],"mark":{"type":"line","strokeDash":[7,5],"color":"#222","strokeWidth":1},"encoding":{"x":{"field":"x","type":"quantitative"},"y":{"field":"y","type":"quantitative"}}}]},
{"width":232,"height":232,"title":{"text":"Center D","offset":3},"layer":[
 {"data":{"name":"pts"},"transform":[{"filter":"datum.p==='GD'"}],"mark":{"type":"point","filled":false,"size":40,"strokeWidth":1,"clip":true,"opacity":1},
  "encoding":{"x":{"field":"x","type":"quantitative","scale":{"domain":[400,1000],"nice":false,"zero":false},"axis":{"title":"JIM-v8 GM volume [ml]","values":[400,600,800,1000],"format":"d","titleX":118,"titleY":38}},
   "y":{"field":"y","type":"quantitative","scale":{"domain":[400,1000],"nice":false,"zero":false},"axis":{"title":"GM volume [ml]","values":[400,600,800,1000],"format":"d","titleX":-46,"titleY":116,"titleFontSize":18}},
   "color":{"field":"c","type":"nominal","scale":{"domain":["r","b"],"range":["#ff0000","#0000ff"]},"legend":null}}},
 {"data":{"name":"diag"},"transform":[{"filter":"datum.r==='G'"}],"mark":{"type":"line","strokeDash":[7,5],"color":"#222","strokeWidth":1},"encoding":{"x":{"field":"x","type":"quantitative"},"y":{"field":"y","type":"quantitative"}}}]}
],
"resolve":{"scale":{"color":"shared"}},
"config":{
 "font":"Liberation Sans",
 "view":{"stroke":"#222","strokeWidth":1.2},
 "axis":{"grid":false,"domain":false,"ticks":true,"tickSize":-3,"tickColor":"#222","labelFont":"Liberation Sans","labelFontSize":16,"labelFontWeight":"bold","labelColor":"black","labelPadding":15,"labelFlush":false,"labelOverlap":false,"titleFont":"Liberation Sans","titleFontSize":19,"titleFontWeight":"bold","titleColor":"black"},
 "axisY":{"labelPadding":-2},
 "title":{"font":"Liberation Sans","fontSize":19,"fontWeight":"bold","color":"black","anchor":"middle","frame":"group"}
}
}
